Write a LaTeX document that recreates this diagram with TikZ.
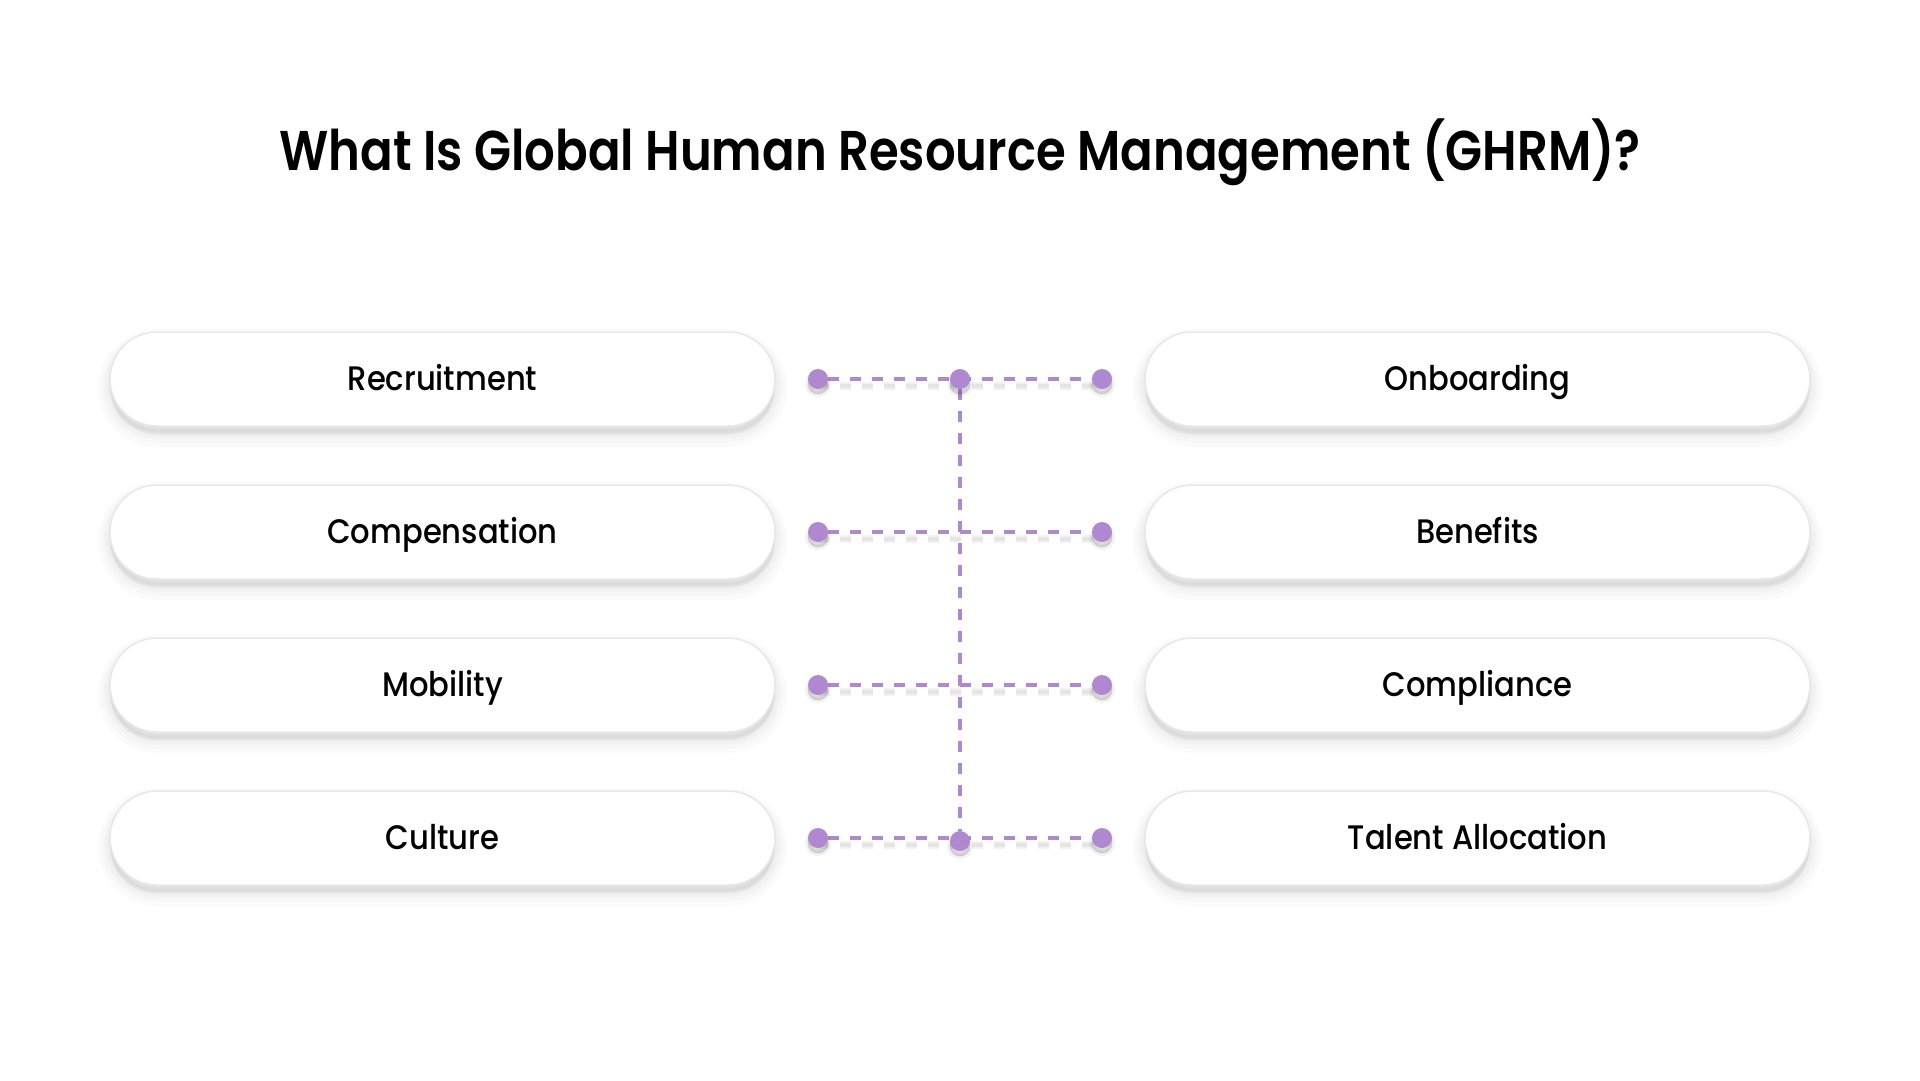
\documentclass[tikz,border=0pt]{standalone}
\usepackage{fontspec}
\setmainfont{Poppins}
\newfontfamily\titlefont{Poppins SemiBold}[FakeStretch=0.86]
\newfontfamily\labelfont{Poppins Medium}[FakeStretch=0.9]
\usetikzlibrary{backgrounds}
\definecolor{lilac}{HTML}{AF88D0}
\definecolor{boxline}{HTML}{E8E8E8}
\tikzset{
  pill/.style={draw=boxline, line width=1.5pt, fill=white, rounded corners=47pt,
    minimum width=665pt, minimum height=94pt, inner sep=0pt,
    text height=23.7pt, text depth=0pt,
    font=\labelfont\fontsize{34}{40}\selectfont,
    preaction={draw=black, fill=black, opacity=0.016, line width=24pt, transform canvas={yshift=-9pt}},
    preaction={draw=black, fill=black, opacity=0.016, line width=17pt, transform canvas={yshift=-8pt}},
    preaction={draw=black, fill=black, opacity=0.018, line width=11pt, transform canvas={yshift=-7pt}},
    preaction={draw=black, fill=black, opacity=0.018, line width=5pt, transform canvas={yshift=-6pt}}},
  dot/.style={circle, fill=lilac, minimum size=20pt, inner sep=0pt,
    preaction={draw=black, fill=black, opacity=0.05, line width=6pt, transform canvas={yshift=-5pt}},
    preaction={draw=black, fill=black, opacity=0.08, line width=1pt, transform canvas={yshift=-5pt}}},
  link/.style={draw=lilac, line width=3.3pt, dash pattern=on 11pt off 11pt},
  linkshadow/.style={draw=black, opacity=0.05, line width=#1, dash pattern=on 11pt off 11pt},
  titletext/.style={font=\titlefont\fontsize{56}{64}\selectfont, anchor=base, inner sep=0pt}
}
\begin{document}
\begin{tikzpicture}[x=1pt,y=-1pt]
\useasboundingbox (0,0) rectangle (1920,1080);
\node[titletext] (title) at (960,170) {What Is Global Human Resource Management (GHRM)?};
% boxes
\node[pill] (b1) at (442.5,379) {Recruitment};
\node[pill] (b2) at (442.5,532) {Compensation};
\node[pill] (b3) at (442.5,685) {Mobility};
\node[pill] (b4) at (442.5,838) {Culture};
\node[pill] (c1) at (1477.5,379) {Onboarding};
\node[pill] (c2) at (1477.5,532) {Benefits};
\node[pill] (c3) at (1477.5,685) {Compliance};
\node[pill] (c4) at (1477.5,838) {Talent Allocation};
% dots
\node[dot] (l1) at (818,379) {};
\node[dot] (l2) at (818,532) {};
\node[dot] (l3) at (818,685) {};
\node[dot] (l4) at (818,838) {};
\node[dot] (r1) at (1102,379) {};
\node[dot] (r2) at (1102,532) {};
\node[dot] (r3) at (1102,685) {};
\node[dot] (r4) at (1102,838) {};
\node[dot] (m1) at (960,379) {};
\node[dot] (m4) at (960,841) {};
\begin{pgfonlayer}{background}
\fill[white] (0,0) rectangle (1920,1080);
\foreach \i in {1,2,3,4}{
  \draw[linkshadow=8pt, transform canvas={yshift=-7pt}] (l\i.center) -- (r\i.center);
  \draw[linkshadow=4pt, transform canvas={yshift=-7pt}] (l\i.center) -- (r\i.center);
  \draw[link] (l\i) -- (r\i);
}
\draw[link] (m1) -- (m4);
\end{pgfonlayer}
\end{tikzpicture}
\end{document}
